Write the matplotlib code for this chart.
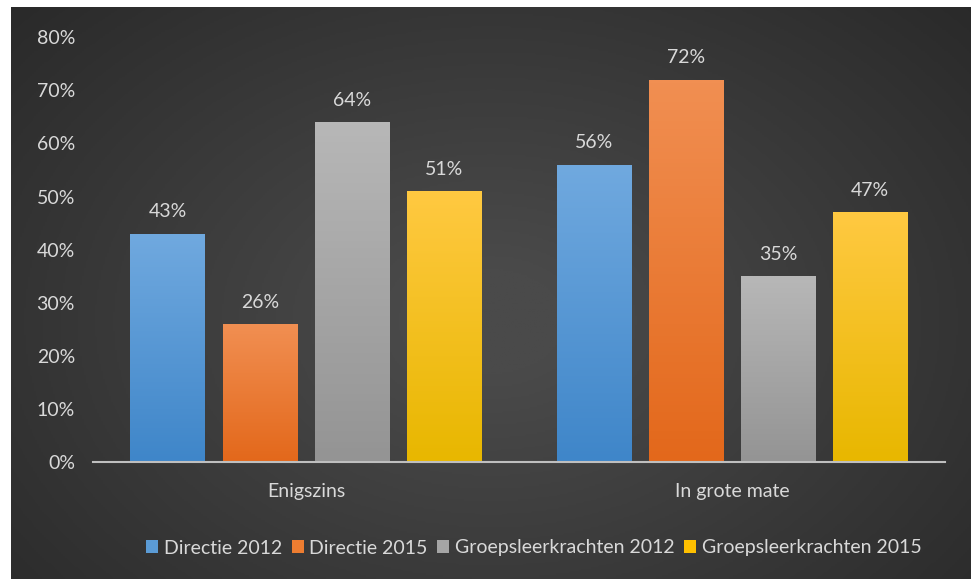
import matplotlib.pyplot as plt
import numpy as np
from matplotlib.patches import Patch
from matplotlib.colors import LinearSegmentedColormap

categories = ["Enigszins", "In grote mate"]
series = ["Directie 2012", "Directie 2015", "Groepsleerkrachten 2012", "Groepsleerkrachten 2015"]
values = [
    [43, 56],
    [26, 72],
    [64, 35],
    [51, 47],
]
yticks = [0, 10, 20, 30, 40, 50, 60, 70, 80]

# (top, bottom) gradient colours per series
grad = [("#70a9df", "#3f86c9"), ("#f18f52", "#e3681b"), ("#b7b7b7", "#949494"), ("#ffc941", "#e8b700")]
legend_colors = ["#5b9bd5", "#ed7d31", "#a5a5a5", "#ffc000"]
txt = "#d9d9d9"

plt.rcParams['font.family'] = ['Lato', 'DejaVu Sans']
fs = 14

W, H = 971, 579
fig = plt.figure(figsize=(W / 100, H / 100), dpi=100, facecolor="white")

# --- background with radial gradient ---
bg = fig.add_axes([11 / W, 0, (970 - 11) / W, (579 - 7) / H])
bg.set_axis_off()
yy, xx = np.mgrid[0:1:300j, 0:1:500j]
r = np.sqrt(((xx - 0.5) / 0.75) ** 2 + ((yy - 0.55) / 0.9) ** 2)
shade = np.clip(1 - r, 0, 1)
bg_cmap = LinearSegmentedColormap.from_list("bg", ["#262626", "#4a4a4a"])
bg.imshow(shade, cmap=bg_cmap, aspect="auto", extent=[0, 1, 0, 1], vmin=0, vmax=0.9)
bg.set_xlim(0, 1)
bg.set_ylim(0, 1)

# --- main chart ---
x0, x1 = 93, 945
y0, y1 = 462 - 0, 462 - 80 * 5.31
ax = fig.add_axes([x0 / W, 1 - y0 / H, (x1 - x0) / W, (y0 - y1) / H])
ax.patch.set_alpha(0)

n = len(series)
bw = 75 / 426
step = 92 / 426
xc = np.arange(len(categories))
for i, s in enumerate(series):
    pos = xc + (i - (n - 1) / 2) * step
    bars = ax.bar(pos, values[i], width=bw, color=legend_colors[i], zorder=2)
    cmap = LinearSegmentedColormap.from_list(s, [grad[i][1], grad[i][0]])
    for b, v in zip(bars, values[i]):
        g = np.linspace(0, 1, 100).reshape(-1, 1)
        im = ax.imshow(g, cmap=cmap, origin="lower", aspect="auto",
                       extent=[b.get_x(), b.get_x() + bw, 0, v], zorder=3)
        im.set_clip_path(b)
        ax.text(b.get_x() + bw / 2, v + 2.5, f"{v}%", ha="center", va="bottom",
                color=txt, fontsize=fs, zorder=4)

ax.set_xlim(-0.5, len(categories) - 0.5)
ax.set_ylim(0, 80)
ax.set_yticks(yticks)
ax.set_yticklabels([f"{t}%" for t in yticks], color=txt, fontsize=fs)
ax.set_xticks(xc)
ax.set_xticklabels(categories, color=txt, fontsize=fs)
ax.tick_params(axis="y", length=0, pad=13)
ax.tick_params(axis="x", length=0, pad=15)
for side in ["top", "right", "left"]:
    ax.spines[side].set_visible(False)
ax.spines["bottom"].set_color("#bfbfbf")
ax.spines["bottom"].set_linewidth(1.5)
ax.spines["bottom"].set_zorder(5)

handles = [Patch(facecolor=c, edgecolor="none") for c in legend_colors]
fig.legend(handles, series, loc="center", bbox_to_anchor=(534 / W, 1 - 548 / H), ncol=4,
           frameon=False, fontsize=fs, labelcolor=txt, handlelength=0.6, handleheight=0.6,
           handletextpad=0.3, columnspacing=0.5)

fig.savefig("out.png", dpi=100, facecolor="white")
